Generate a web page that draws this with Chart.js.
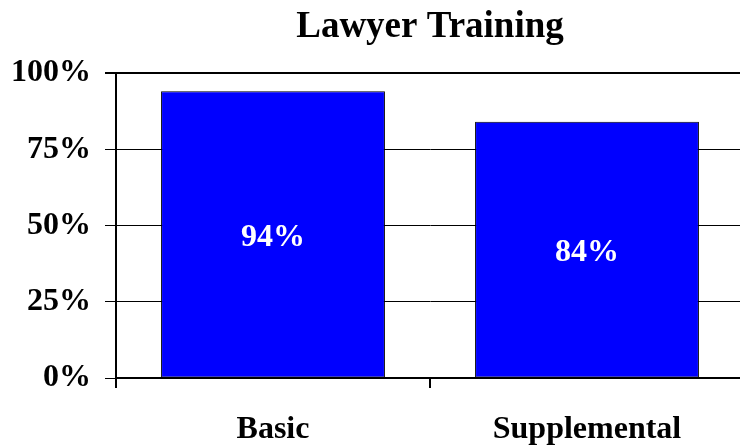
<!DOCTYPE html>
<html>
<head>
<meta charset="utf-8">
<script src="https://cdn.jsdelivr.net/npm/chart.js@4/dist/chart.umd.min.js"></script>
<style>
  html, body { margin: 0; padding: 0; background: #fff; overflow: hidden; }
  #wrap { width: 744px; height: 446px; }
</style>
</head>
<body>
<div id="wrap"><canvas id="chart" width="744" height="446"></canvas></div>
<script>
const categories = ["Basic", "Supplemental"];
const values = [94, 84];
const yTicks = [0, 25, 50, 75, 100];
const titleText = "Lawyer Training";

const FONT = "'Liberation Serif', 'Times New Roman', serif";

// Prozentwert mittig in den Balken schreiben
const barLabels = {
  id: "barLabels",
  afterDatasetsDraw(chart) {
    const { ctx } = chart;
    const meta = chart.getDatasetMeta(0);
    ctx.save();
    ctx.fillStyle = "#ffffff";
    ctx.font = "bold 32px " + FONT;
    ctx.textAlign = "center";
    ctx.textBaseline = "middle";
    meta.data.forEach((bar, i) => {
      const y = (bar.y + bar.base) / 2 + 3;
      ctx.fillText(values[i] + "%", bar.x, y);
    });
    ctx.restore();
  },
};

// Titel über der Zeichenfläche zentriert (nicht über dem ganzen Canvas)
const plotTitle = {
  id: "plotTitle",
  afterDraw(chart) {
    const { ctx, chartArea } = chart;
    ctx.save();
    ctx.fillStyle = "#000";
    ctx.font = "bold 37px " + FONT;
    ctx.textAlign = "center";
    ctx.textBaseline = "middle";
    ctx.fillText(titleText, (chartArea.left + chartArea.right) / 2, 27);
    ctx.restore();
  },
};

new Chart(document.getElementById("chart"), {
  type: "bar",
  data: {
    labels: categories,
    datasets: [{
      data: values,
      backgroundColor: "#0000ff",
      borderColor: "#000000",
      borderWidth: 1,
      borderSkipped: false,
      categoryPercentage: 1,
      barPercentage: 0.713,
    }],
  },
  options: {
    responsive: false,
    animation: false,
    layout: { padding: { left: 0, right: 0, top: 73, bottom: 0 } },
    plugins: {
      legend: { display: false },
      tooltip: { enabled: false },
      title: { display: false },
    },
    scales: {
      x: {
        grid: {
          offset: true,
          drawOnChartArea: false,
          drawTicks: true,
          tickLength: 10,
          color: "#000",
          lineWidth: 2,
        },
        border: { display: true, color: "#000", width: 2 },
        ticks: {
          color: "#000",
          padding: 23,
          font: { family: FONT, size: 32, weight: "bold" },
        },
        afterFit: (s) => { s.height = 68; },
      },
      y: {
        min: 0,
        max: 100,
        afterBuildTicks: (s) => { s.ticks = yTicks.map((v) => ({ value: v })); },
        grid: {
          color: "#000",
          lineWidth: (c) => (c.tick && c.tick.value === 100 ? 2 : 1),
          tickLength: 11,
        },
        border: { display: true, color: "#000", width: 2 },
        ticks: {
          color: "#000",
          padding: 14,
          font: { family: FONT, size: 32, weight: "bold" },
          callback: (v) => v + "%",
        },
        afterFit: (s) => { s.width = 116; },
      },
    },
  },
  plugins: [barLabels, plotTitle],
});
</script>
</body>
</html>
